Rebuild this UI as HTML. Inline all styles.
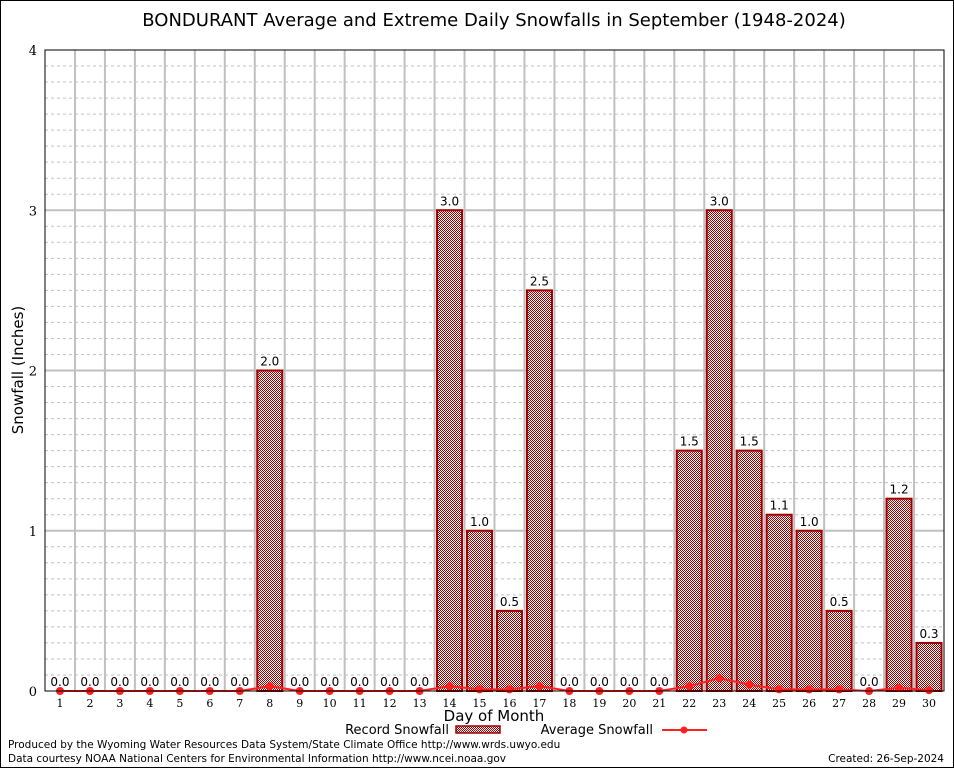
<!DOCTYPE html>
<html><head><meta charset="utf-8"><style>
body{margin:0;background:#fff}
svg{display:block;font-family:"DejaVu Sans","Liberation Sans",sans-serif}
</style></head><body>
<svg id="c" width="954" height="768" viewBox="0 0 954 768">
<defs>
<pattern id="chk" width="2" height="2" patternUnits="userSpaceOnUse">
<rect width="2" height="2" fill="#fff"/><rect width="1" height="1" fill="#a00000"/><rect x="1" y="1" width="1" height="1" fill="#a00000"/>
</pattern>
</defs>
<rect x="0.5" y="0.5" width="953" height="767" fill="#fff" stroke="#000"/>
<text x="494" y="26" text-anchor="middle" font-size="18">BONDURANT Average and Extreme Daily Snowfalls in September (1948-2024)</text>
<g id="grid"></g>
<g id="bars"></g>
<g id="avg"></g>
<rect x="45" y="50" width="899" height="641" fill="none" stroke="#000"/>
<text x="23" y="370" transform="rotate(-90 23 370)" text-anchor="middle" font-size="15">Snowfall (Inches)</text>
<text x="494" y="721" text-anchor="middle" font-size="15">Day of Month</text>
<g>
<text x="449" y="734" text-anchor="end" font-size="13">Record Snowfall</text>
<rect x="456" y="726" width="44" height="7" fill="url(#chk)" stroke="#a00000" stroke-width="1.5"/>
</g>
<g>
<text x="653" y="734" text-anchor="end" font-size="13">Average Snowfall</text>
<line x1="662" y1="730" x2="707" y2="730" stroke="#ff2020" stroke-width="2"/>
<circle cx="684" cy="730" r="3.5" fill="#ff2020"/>
</g>
<text x="8" y="748" font-size="10.5">Produced by the Wyoming Water Resources Data System/State Climate Office http://www.wrds.uwyo.edu</text>
<text x="8" y="762" font-size="10.5">Data courtesy NOAA National Centers for Environmental Information http://www.ncei.noaa.gov</text>
<text x="944" y="762" text-anchor="end" font-size="10.5">Created: 26-Sep-2024</text>
</svg>
<script>
const days=[1,2,3,4,5,6,7,8,9,10,11,12,13,14,15,16,17,18,19,20,21,22,23,24,25,26,27,28,29,30];
const records=[0,0,0,0,0,0,0,2.0,0,0,0,0,0,3.0,1.0,0.5,2.5,0,0,0,0,1.5,3.0,1.5,1.1,1.0,0.5,0,1.2,0.3];
const averages=[0,0,0,0,0,0,0,0.03,0,0,0,0,0,0.03,0.01,0.01,0.03,0,0,0,0,0.03,0.08,0.04,0.01,0.01,0.01,0,0.02,0.005];
const yTicks=[0,1,2,3,4];
const NS='http://www.w3.org/2000/svg';
const x0=45,x1=944,yTop=50,yBot=691,yMax=4;
const step=(x1-x0)/30;
const X=d=>x0+(d-0.5)*step;
const Y=v=>yBot-(v/yMax)*(yBot-yTop);
function mk(t,a,p){const e=document.createElementNS(NS,t);for(const k in a)e.setAttribute(k,a[k]);p.appendChild(e);return e;}
const grid=document.getElementById('grid');
for(let i=1;i<40;i++){const v=i/10;if(i%10===0)continue;
 const l=mk('line',{x1:x0,x2:x1,y1:Y(v),y2:Y(v),stroke:'#c0c0c0','stroke-dasharray':'3,3'},grid);
 
 }
yTicks.forEach(v=>{
 if(v>0&&v<yMax){const l=mk('line',{x1:x0,x2:x1,y1:Y(v),y2:Y(v),stroke:'#c0c0c0','stroke-width':2},grid);
 
 }
 const t=mk('text',{x:x0-8,y:Y(v)+5,'text-anchor':'end','font-size':13,'font-family':'DejaVu Serif,serif'},grid);t.textContent=v;
 
 
});
for(let i=1;i<30;i++){const x=x0+i*step;
 const l=mk('line',{x1:x,x2:x,y1:yTop,y2:yBot,stroke:'#c0c0c0','stroke-width':2},grid);
 
 }
days.forEach(d=>{const t=mk('text',{x:X(d),y:yBot+16,'text-anchor':'middle','font-size':11,'font-family':'DejaVu Serif,serif'},grid);t.textContent=d;
 
 });
const bars=document.getElementById('bars');
records.forEach((v,i)=>{const d=days[i];
 if(v>0){const r=mk('rect',{x:X(d)-12.5,y:Y(v),width:25,height:yBot-Y(v),fill:'url(#chk)',stroke:'#a00000','stroke-width':2},bars);
 
 }
 const t=mk('text',{x:X(d),y:Y(v)-5,'text-anchor':'middle','font-size':12},bars);t.textContent=v.toFixed(1);
 
 
});
const avg=document.getElementById('avg');
const pl=mk('polyline',{points:averages.map((v,i)=>X(days[i])+','+Y(v)).join(' '),fill:'none',stroke:'#ff2020','stroke-width':2},avg);


averages.forEach((v,i)=>{const c=mk('circle',{cx:X(days[i]),cy:Y(v),r:4,fill:'#ff2020'},avg);
 
 });
</script>
</body></html>
